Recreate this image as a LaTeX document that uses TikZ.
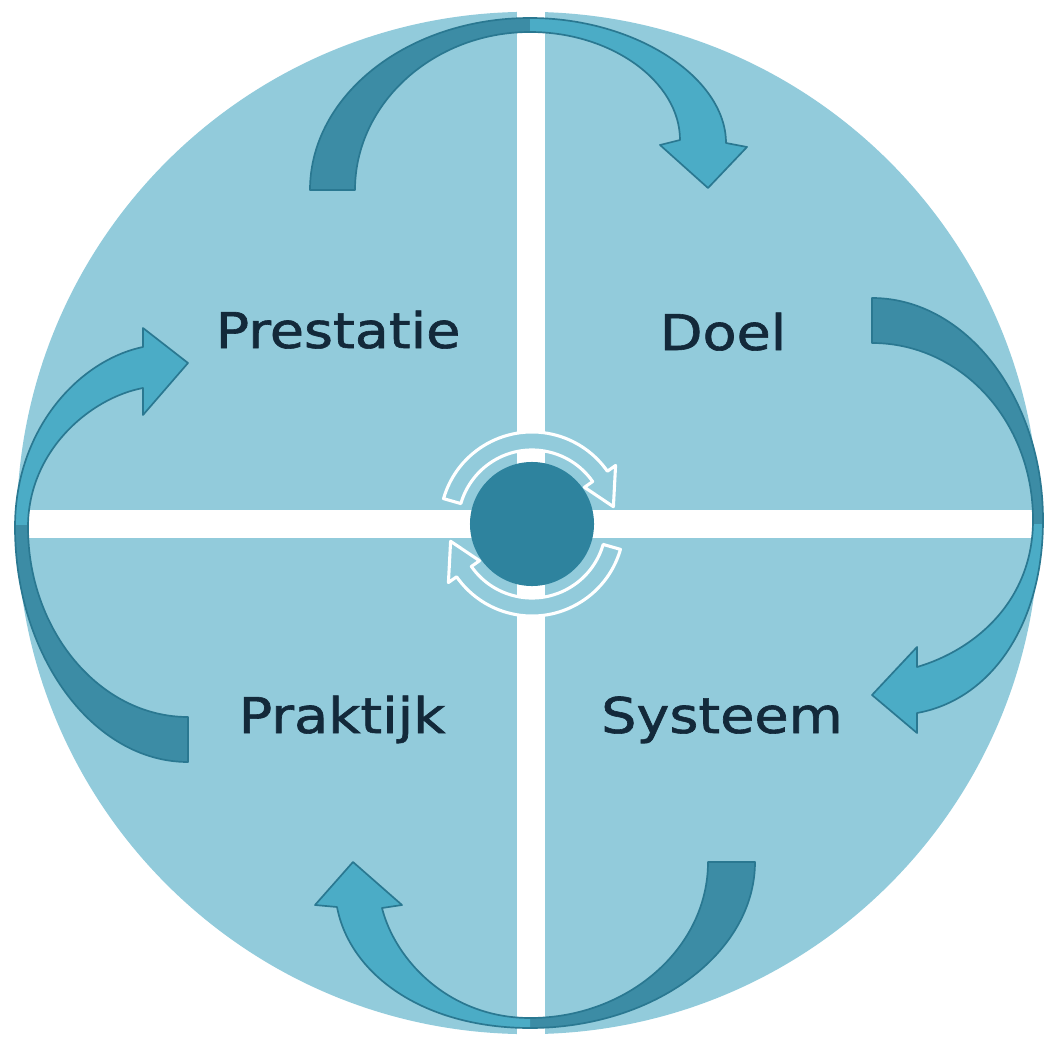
\documentclass[tikz,border=0pt]{standalone}
\usepackage{fontspec}
\newfontfamily\lblfont[FakeBold=1.2]{DejaVu Sans}
\definecolor{bgc}{HTML}{92CBDB}
\definecolor{darkar}{HTML}{3C8CA5}
\definecolor{lightar}{HTML}{4BACC6}
\definecolor{edgear}{HTML}{2A7891}
\definecolor{hubc}{HTML}{2E839E}
\definecolor{txtc}{HTML}{13293A}
\newcommand\ptop{(310,190) .. controls (310,95) and (408,18) .. (530,18)
  .. controls (636,18) and (726,78) .. (726,143)
  -- (747,147) -- (708,188) -- (660,145) -- (680,140)
  .. controls (680,82) and (612,32) .. (530,32)
  .. controls (434,32) and (355,103) .. (355,190) -- cycle}
\newcommand\pright{(872,298) .. controls (966,298) and (1043,398) .. (1043,520)
  .. controls (1043,626) and (990,700) .. (917,713)
  -- (917,733) -- (872,695) -- (917,647) -- (917,667)
  .. controls (975,650) and (1033,601) .. (1033,520)
  .. controls (1033,420) and (960,343) .. (872,343) -- cycle}
\newcommand\pleft{(188,762) .. controls (93,762) and (15,656) .. (15,527)
  .. controls (15,428) and (80,360) .. (143,347)
  -- (143,328) -- (188,363) -- (143,415) -- (143,388)
  .. controls (90,398) and (28,451) .. (28,527)
  .. controls (28,631) and (100,717) .. (188,717) -- cycle}
\newcommand\pbot{(755,862) .. controls (755,953) and (654,1028) .. (530,1028)
  .. controls (424,1028) and (350,975) .. (337,907)
  -- (315,905) -- (353,862) -- (402,905) -- (382,908)
  .. controls (395,960) and (449,1018) .. (530,1018)
  .. controls (628,1018) and (708,948) .. (708,862) -- cycle}
\begin{document}
\begin{tikzpicture}[x=0.025cm,y=-0.025cm,
  lbl/.style={font=\lblfont\fontsize{35}{40}\selectfont, text=txtc, anchor=base, inner sep=0pt, xscale=1.13, transform shape},
  arrowedge/.style={draw=edgear, line width=1.2pt, line join=round},
  ring/.style={draw=white, line width=2.2pt, fill=bgc, line join=round}]
\useasboundingbox (0,0) rectangle (1045,1037);
% background disc
\fill[bgc] (528,523) circle[radius=12.775cm];
% white cross
\fill[white] (517,0) rectangle (545,1037);
\fill[white] (0,510) rectangle (1045,538);
% top arrow
\fill[darkar] \ptop;
\begin{scope}\clip (530,0) rectangle (1045,1037); \fill[lightar] \ptop; \end{scope}
\draw[arrowedge] \ptop;
% right arrow
\fill[darkar] \pright;
\begin{scope}\clip (0,524) rectangle (1045,1037); \fill[lightar] \pright; \end{scope}
\draw[arrowedge] \pright;
% left arrow
\fill[darkar] \pleft;
\begin{scope}\clip (0,0) rectangle (1045,524); \fill[lightar] \pleft; \end{scope}
\draw[arrowedge] \pleft;
% bottom arrow
\fill[darkar] \pbot;
\begin{scope}\clip (0,0) rectangle (530,1037); \fill[lightar] \pbot; \end{scope}
\draw[arrowedge] \pbot;
% centre cycle icon
\begin{scope}[shift={(532,524)}]
  \draw[ring] (164:2.3cm) arc[start angle=164, end angle=35, radius=2.3cm]
    -- (35:2.55cm) -- (12:2.08cm) -- (35:1.6cm) -- (35:1.85cm)
    arc[start angle=35, end angle=164, radius=1.85cm] -- cycle;
  \draw[ring] (-16:2.3cm) arc[start angle=-16, end angle=-145, radius=2.3cm]
    -- (-145:2.55cm) -- (-168:2.08cm) -- (-145:1.6cm) -- (-145:1.85cm)
    arc[start angle=-145, end angle=-16, radius=1.85cm] -- cycle;
  \fill[hubc] (0,0) circle[radius=1.55cm];
  \node (hub) at (0,0) {};
\end{scope}
% labels
\node[lbl] (prestatie) at (338,348) {Prestatie};
\node[lbl] (doel) at (723,350) {Doel};
\node[lbl] (praktijk) at (342,733) {Praktijk};
\node[lbl] (systeem) at (722,733) {Systeem};
\end{tikzpicture}
\end{document}
